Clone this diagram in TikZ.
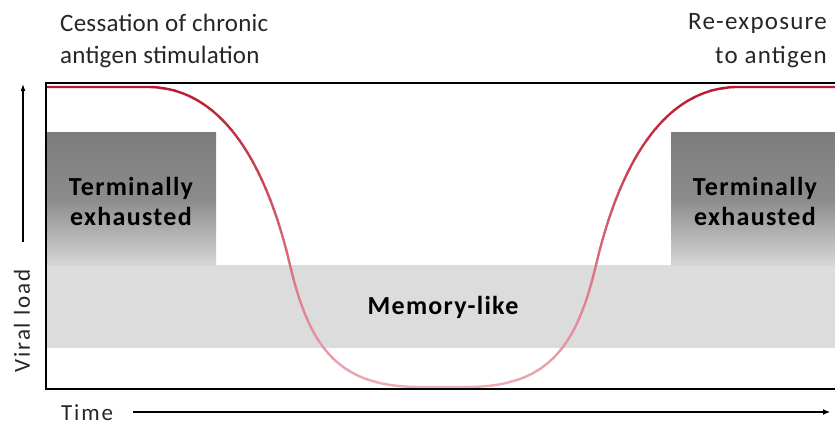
\documentclass[tikz,border=0pt]{standalone}
\usepackage{fontspec}
\setmainfont{Carlito}
\usetikzlibrary{arrows.meta}
\definecolor{curvetop}{RGB}{185,25,45}
\definecolor{curvebot}{RGB}{240,175,185}
\definecolor{bandgray}{RGB}{220,220,220}
\definecolor{boxtop}{RGB}{125,125,125}
\definecolor{boxmid}{RGB}{140,140,140}
\definecolor{boxbot}{RGB}{215,215,215}
\tikzset{
  labeltext/.style={font=\fontsize{25}{30}\selectfont\addfontfeatures{LetterSpace=1}, text=black!85},
  rlabeltext/.style={font=\fontsize{25}{30}\selectfont\addfontfeatures{LetterSpace=5}, text=black!85},
  boxtext/.style={font=\fontsize{26}{30}\selectfont\bfseries\addfontfeatures{LetterSpace=5}, align=center},
  axistext/.style={font=\fontsize{23}{27}\selectfont\addfontfeatures{LetterSpace=8}, text=black!85},
  exhbox/.style={top color=boxtop, bottom color=boxbot, middle color=boxmid, draw=none},
  frameline/.style={line width=1.8pt, black},
  axisline/.style={line width=1.2pt, black}
}
\begin{document}
\begin{tikzpicture}[x=1pt,y=-1pt]
\useasboundingbox (0,0) rectangle (835,427);
\fill[white] (0,0) rectangle (835,427);
% memory band
\fill[bandgray] (46,265) rectangle (835,348);
% exhausted boxes
\shade[exhbox] (46,133) rectangle (216,266);
\shade[exhbox] (671,133) rectangle (835,266);
\node[boxtext] (tl) at (131,201) {Terminally\\exhausted};
\node[boxtext] (tr) at (755,201) {Terminally\\exhausted};
\node[boxtext] (mem) at (443,307) {Memory-like};
% curve with vertical colour gradient
\def\curvepath{(46,87) -- (150,87) .. controls (230,89) and (270,180) .. (290,265) .. controls (310,350) and (340,387) .. (420,387) -- (466,387) .. controls (546,387) and (576,350) .. (596,265) .. controls (616,180) and (656,89) .. (736,87) -- (835,87)}
\foreach \i in {0,...,31}{
  \pgfmathsetmacro\p{100*\i/31}
  \colorlet{cc}{curvebot!\p!curvetop}
  \begin{scope}
    \clip (0,{80+10*\i}) rectangle (835,{90+10*\i});
    \draw[cc, line width=2.4pt] \curvepath;
  \end{scope}
}
% frame
\draw[frameline] (835,83) -- (46,83) -- (46,389) -- (835,389);
% y axis
\coordinate (ya) at (23,242);
\coordinate (yb) at (23,84);
\draw[axisline, -{Latex[length=7pt,width=5pt]}] (ya) -- (yb);
\node[axistext, rotate=90] (vl) at (22,321) {Viral load};
% x axis
\node[axistext, anchor=west, inner sep=0pt] (time) at (61,413) {Time};
\coordinate (xa) at (133,412);
\coordinate (xb) at (830,412);
\draw[axisline, -{Latex[length=7pt,width=6pt]}] (xa) -- (xb);
% top labels
\node[labeltext, anchor=west, inner sep=0pt] (c1) at (60,23) {Cessation of chronic};
\node[labeltext, anchor=west, inner sep=0pt] (c2) at (60,57) {antigen stimulation};
\node[rlabeltext, anchor=east, inner sep=0pt] (r1) at (827,23) {Re-exposure};
\node[rlabeltext, anchor=east, inner sep=0pt] (r2) at (827,57) {to antigen};
\end{tikzpicture}
\end{document}
